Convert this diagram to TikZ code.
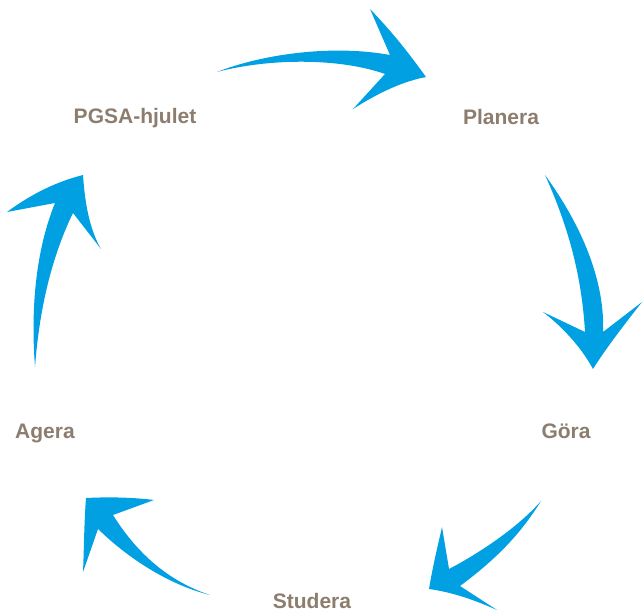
\documentclass[tikz,border=0pt]{standalone}
\usepackage{fontspec}
\setmainfont{Liberation Sans}
\definecolor{arrowblue}{RGB}{0,160,227}
\definecolor{labelgray}{RGB}{140,125,110}
\begin{document}
\begin{tikzpicture}[x=1pt,y=-1pt,
  lbl/.style={anchor=base,inner sep=0pt,text=labelgray,font=\fontsize{21}{24}\selectfont\bfseries},
  swoosh/.style={fill=arrowblue,draw=none}]
\useasboundingbox (0,0) rectangle (642,612);
% labels
\node[lbl] (pgsa) at (135,124) {PGSA-hjulet};
\node[lbl] (planera) at (501,125) {Planera};
\node[lbl] (gora) at (566,438) {Göra};
\node[lbl] (studera) at (312,608) {Studera};
\node[lbl] (agera) at (45,438) {Agera};
% top arrow
\fill[swoosh] (217,72) .. controls (260,55) and (330,44) .. (390,55) -- (370,9)
  .. controls (395,35) and (410,55) .. (426,77)
  .. controls (400,82) and (375,95) .. (353,109) -- (385,74)
  .. controls (340,58) and (270,58) .. (217,72) -- cycle;
% right arrow
\fill[swoosh] (545,175) .. controls (585,230) and (605,285) .. (603,332) -- (642,302)
  .. controls (620,330) and (605,350) .. (593,369)
  .. controls (580,345) and (560,325) .. (543,312) -- (585,332)
  .. controls (582,280) and (570,230) .. (545,175) -- cycle;
% bottom-right arrow
\fill[swoosh] (541,501) .. controls (520,535) and (495,560) .. (460,586) -- (497,610)
  .. controls (470,598) and (450,592) .. (429,589)
  .. controls (433,565) and (438,545) .. (442,527) -- (449,569)
  .. controls (485,550) and (520,525) .. (541,501) -- cycle;
% bottom-left arrow
\fill[swoosh] (210,595) .. controls (165,580) and (135,550) .. (113,515) -- (154,500)
  .. controls (130,497) and (105,497) .. (86,498)
  .. controls (84,525) and (84,550) .. (83,572) -- (98,529)
  .. controls (130,560) and (170,585) .. (210,595) -- cycle;
% left arrow
\fill[swoosh] (35,367) .. controls (30,300) and (38,245) .. (55,203) -- (7,212)
  .. controls (30,195) and (55,182) .. (83,175)
  .. controls (85,205) and (90,230) .. (101,249) -- (73,213)
  .. controls (55,250) and (40,300) .. (35,367) -- cycle;
\end{tikzpicture}
\end{document}
